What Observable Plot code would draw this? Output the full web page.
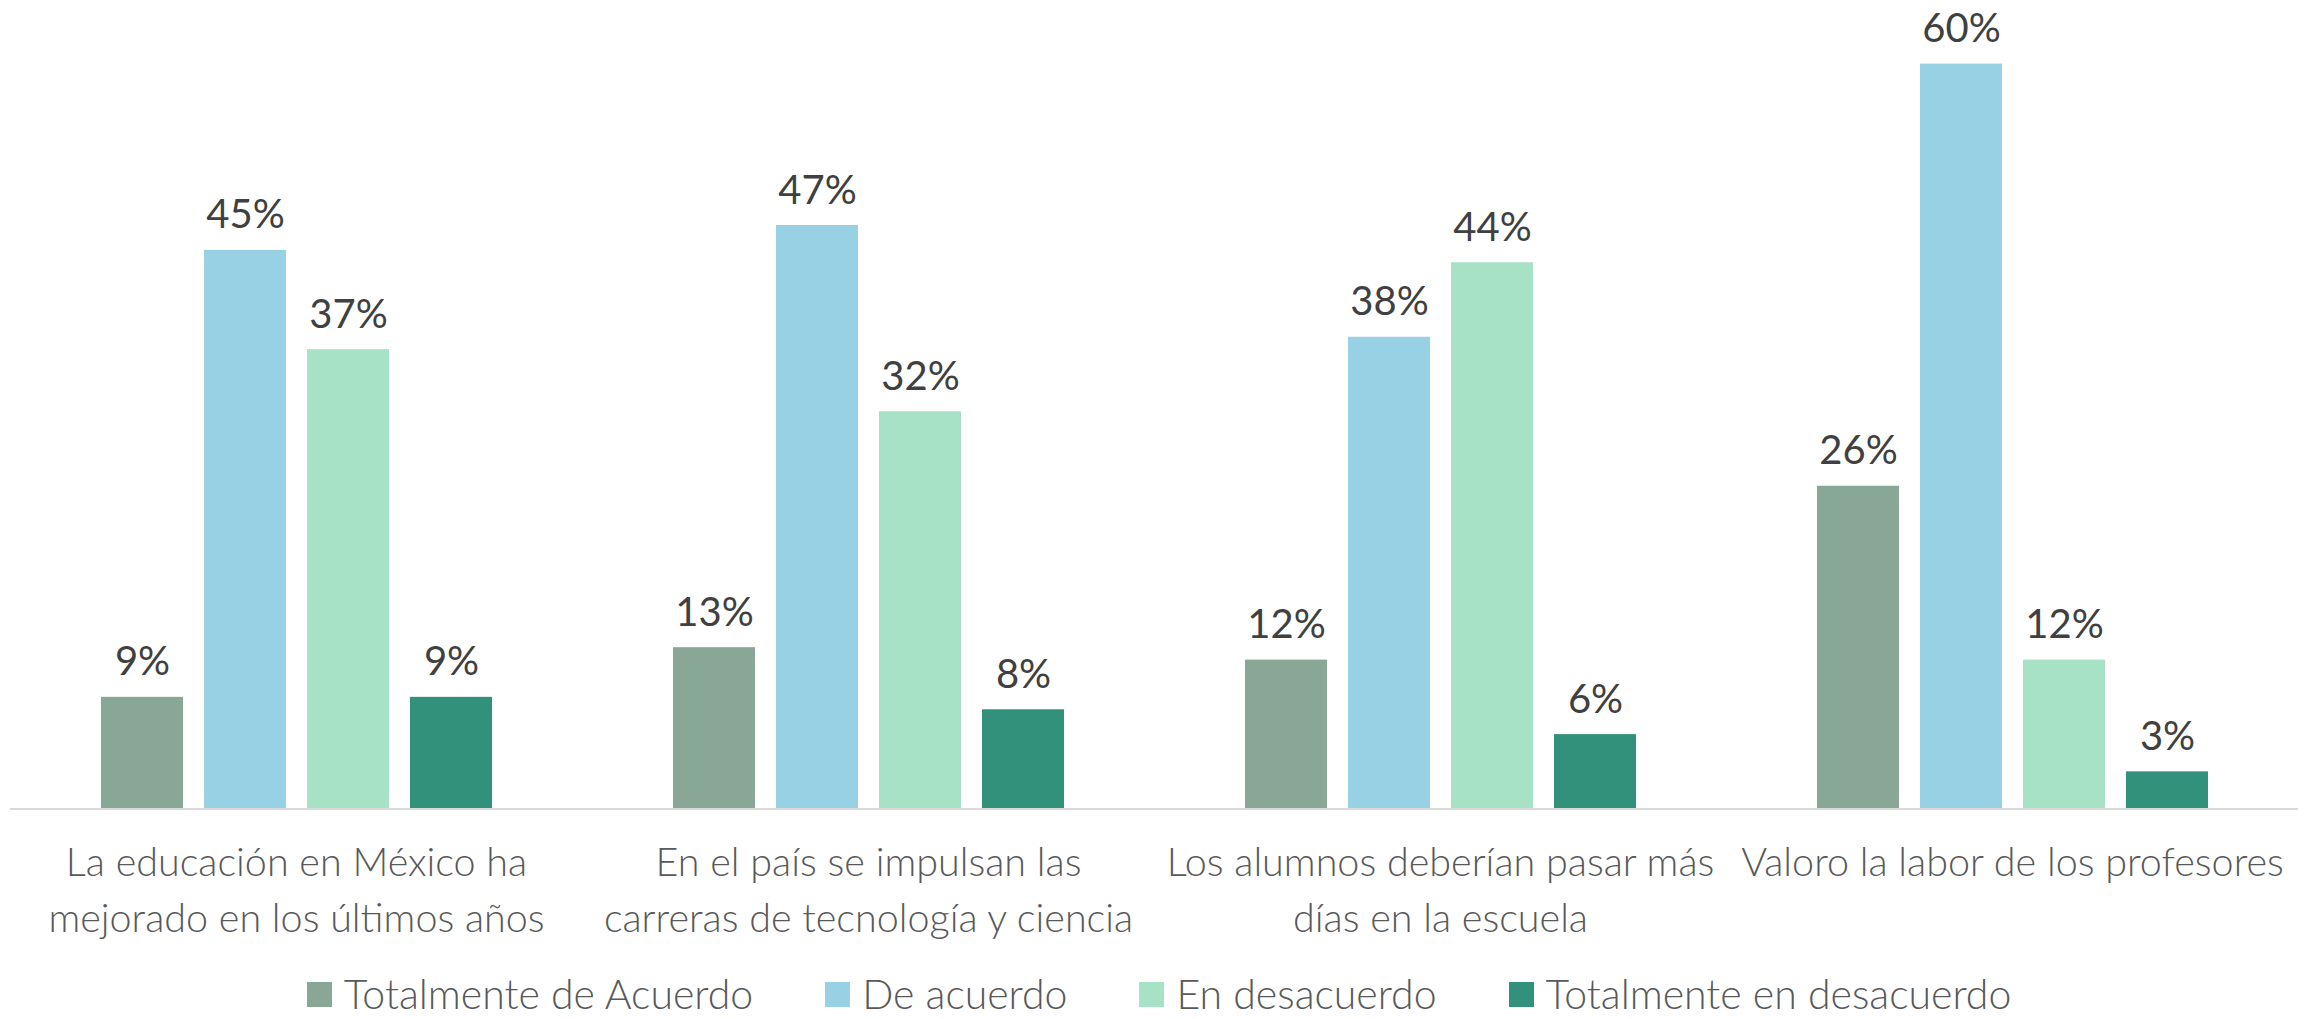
<!DOCTYPE html>
<html>
<head>
<meta charset="utf-8">
<script src="https://cdn.jsdelivr.net/npm/d3@7"></script>
<script src="https://cdn.jsdelivr.net/npm/@observablehq/plot@0.6"></script>
<style>
  html, body { margin: 0; padding: 0; background: #fff; }
  #chart { position: relative; width: 2318px; height: 1019px; overflow: hidden; }
  #chart > svg { position: absolute; left: 0; top: 0; }
  #legend { position: absolute; left: 0; top: 970px; width: 2318px; display: flex; justify-content: center; }
  #legend .lg-swatches { margin: 0 !important; font-family: Lato, sans-serif !important; font-weight: 300 !important; font-size: 41px !important; line-height: 48px !important; color: #595959 !important; }
  #legend .lg-swatches-wrap { min-height: 48px !important; }
  #legend .lg-swatch { margin-right: 72px !important; }
  #legend .lg-swatch:last-child { margin-right: 0 !important; }
  #legend .lg-swatch > svg { margin-right: 12px !important; }
</style>
</head>
<body>
<div id="chart"><div id="legend"></div></div>
<script>
// Categories (question statements), with their line breaks as in the reference
const categories = [
  "La educación en México ha\nmejorado en los últimos años",
  "En el país se impulsan las\ncarreras de tecnología y ciencia",
  "Los alumnos deberían pasar más\ndías en la escuela",
  "Valoro la labor de los profesores"
];
// Series (answers)
const series = ["Totalmente de Acuerdo", "De acuerdo", "En desacuerdo", "Totalmente en desacuerdo"];
// Values in percent, one per category
const totalmenteDeAcuerdo = [9, 13, 12, 26];
const deAcuerdo = [45, 47, 38, 60];
const enDesacuerdo = [37, 32, 44, 12];
const totalmenteEnDesacuerdo = [9, 8, 6, 3];
const seriesColors = ["#88a797", "#98d1e3", "#a8e2c6", "#31917a"];

const valuesBySeries = [totalmenteDeAcuerdo, deAcuerdo, enDesacuerdo, totalmenteEnDesacuerdo];
const data = [];
categories.forEach((c, i) => {
  series.forEach((s, j) => {
    data.push({category: c, series: s, value: valuesBySeries[j][i]});
  });
});

const chart = Plot.plot({
  width: 2318,
  height: 950,
  marginTop: 63.6,
  marginBottom: 141.4,
  marginLeft: 10,
  marginRight: 20,
  fx: {domain: categories, padding: 0, label: null},
  x: {domain: series, paddingInner: 0.208, paddingOuter: 0.867, axis: null},
  y: {domain: [0, 60], axis: null},
  color: {domain: series, range: seriesColors},
  style: {fontFamily: "Lato, sans-serif", background: "#fff", overflow: "visible"},
  marks: [
    Plot.barY(data, {fx: "category", x: "series", y: "value", fill: "series"}),
    Plot.ruleY([0], {stroke: "#d9d9d9", strokeWidth: 2}),
    Plot.text(data, {
      fx: "category", x: "series", y: "value",
      text: d => d.value + "%",
      dy: -22, lineAnchor: "bottom",
      fontSize: 40, fill: "#404040"
    }),
    Plot.axisFx({
      anchor: "bottom", tickSize: 0, tickPadding: 27, label: null,
      fontSize: 39.5, fontWeight: 300, fill: "#595959", lineHeight: 1.42
    })
  ]
});
document.getElementById("chart").prepend(chart);

const legend = Plot.legend({
  color: {domain: series, range: seriesColors, type: "categorical"},
  swatchSize: 25,
  className: "lg"
});
document.getElementById("legend").appendChild(legend);
</script>
</body>
</html>
